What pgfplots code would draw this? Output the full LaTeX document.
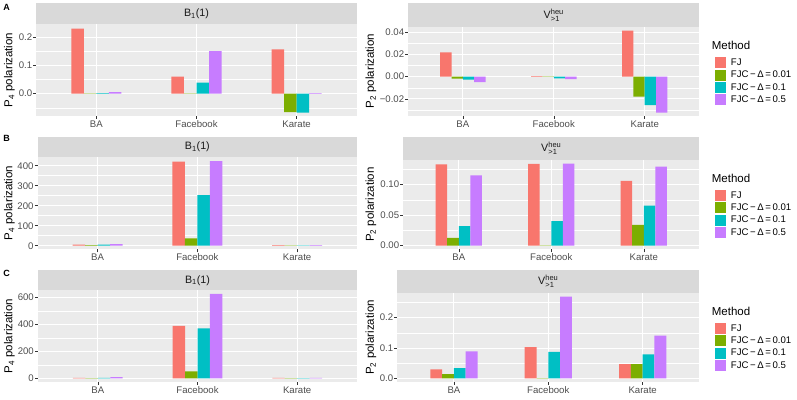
\documentclass[border=0pt]{standalone}
\usepackage{amsmath}
\usepackage{fontspec}
\setmainfont{Liberation Sans}
\usepackage{pgfplots}
\pgfplotsset{compat=1.18}

\definecolor{c1}{HTML}{F8766D}
\definecolor{c2}{HTML}{7CAE00}
\definecolor{c3}{HTML}{00BFC4}
\definecolor{c4}{HTML}{C77CFF}
\definecolor{panelbg}{HTML}{EBEBEB}
\definecolor{stripbg}{HTML}{D9D9D9}
\definecolor{ticktxt}{HTML}{4D4D4D}
\definecolor{tickln}{HTML}{333333}

\newcommand{\tickfont}{\fontsize{9.6}{10}\selectfont}
\newcommand{\titlefont}{\fontsize{11.5}{12}\selectfont}
\newcommand{\stripfont}{\fontsize{10.7}{11}\selectfont}

\pgfplotsset{
  gg/.style={
    scale only axis, anchor=south west,
    xmin=0.4, xmax=3.6,
    xtick={1,2,3}, xticklabels={BA,Facebook,Karate},
    axis background/.style={fill=panelbg},
    axis line style={draw=none},
    tick pos=left, tick align=outside,
    major tick length=3pt, minor tick length=0pt,
    every tick/.style={tickln, line width=0.5pt},
    xmajorgrids, ymajorgrids, yminorgrids,
    major grid style={white, line width=0.9pt},
    minor grid style={white, line width=0.45pt},
    ticklabel style={font=\tickfont, text=ticktxt},
    yticklabel style={inner sep=1pt},
    xticklabel style={inner sep=1.5pt},
    ybar, bar width=0.125,
    clip=false,
  },
  s1/.style={fill=c1, draw=none, bar shift=-0.1875},
  s2/.style={fill=c2, draw=none, bar shift=-0.0625},
  s3/.style={fill=c3, draw=none, bar shift=0.0625},
  s4/.style={fill=c4, draw=none, bar shift=0.1875},
  gglegend/.style={
    legend image code/.code={\fill[##1] (0pt,-5.5pt) rectangle (11pt,5.5pt);},
    legend style={draw=none, fill=none, anchor=north west,
      font=\tickfont, row sep=1.4pt, column sep=0pt,
      nodes={inner sep=0pt, anchor=west},
      cells={anchor=west}},
    legend cell align=left,
  },
}

\begin{document}
\begin{tikzpicture}[x=1pt,y=1pt]
\path[use as bounding box] (0,0) rectangle (797,399);

% ---------- Row A ----------
\begin{axis}[gg, at={(36.3pt,283pt)}, width=320.4pt, height=92pt,
  ymin=-0.079, ymax=0.246,
  ytick={0,0.1,0.2}, yticklabels={0.0,0.1,0.2},
  minor ytick={-0.05,0.05,0.15}]
\addplot[s1] coordinates {(1,0.230) (2,0.060) (3,0.156)};
\addplot[s2] coordinates {(1,0.0005) (2,0.001) (3,-0.065)};
\addplot[s3] coordinates {(1,0.002) (2,0.039) (3,-0.067)};
\addplot[s4] coordinates {(1,0.005) (2,0.150) (3,0.002)};
\end{axis}

\begin{axis}[gg, gglegend, at={(408.3pt,283pt)}, width=291pt, height=89.3pt,
  ymin=-0.0355, ymax=0.0451,
  ytick={-0.02,0,0.02,0.04}, yticklabels={−0.02,0.00,0.02,0.04},
  minor ytick={-0.03,-0.01,0.01,0.03},
  legend style={at={(1.0426,0.683)}}]
\addplot[s1] coordinates {(1,0.022) (2,0.0005) (3,0.0415)};
\addplot[s2] coordinates {(1,-0.0018) (2,0.0002) (3,-0.018)};
\addplot[s3] coordinates {(1,-0.0027) (2,-0.0015) (3,-0.0256)};
\addplot[s4] coordinates {(1,-0.005) (2,-0.0022) (3,-0.0325)};
\addlegendentry{\hspace{5pt}FJ}
\addlegendentry{\hspace{5pt}FJC\,−\,Δ\,=\,0.01}
\addlegendentry{\hspace{5pt}FJC\,−\,Δ\,=\,0.1}
\addlegendentry{\hspace{5pt}FJC\,−\,Δ\,=\,0.5}
\end{axis}

% ---------- Row B ----------
\begin{axis}[gg, at={(37.7pt,149.7pt)}, width=319.3pt, height=92.6pt,
  ymin=-18, ymax=445,
  ytick={0,100,200,300,400}, yticklabels={0,100,200,300,400},
  minor ytick={50,150,250,350}]
\addplot[s1] coordinates {(1,5) (2,420) (3,3)};
\addplot[s2] coordinates {(1,3) (2,37) (3,2)};
\addplot[s3] coordinates {(1,5) (2,253) (3,2)};
\addplot[s4] coordinates {(1,8) (2,423) (3,3)};
\end{axis}

\begin{axis}[gg, gglegend, at={(403.3pt,149.7pt)}, width=296pt, height=89.3pt,
  ymin=-0.006, ymax=0.1404,
  ytick={0,0.05,0.10}, yticklabels={0.00,0.05,0.10},
  minor ytick={0.025,0.075,0.125},
  legend style={at={(1.0419,0.6887)}}]
\addplot[s1] coordinates {(1,0.1333) (2,0.134) (3,0.106)};
\addplot[s2] coordinates {(1,0.0126) (2,0.0005) (3,0.034)};
\addplot[s3] coordinates {(1,0.032) (2,0.040) (3,0.0656)};
\addplot[s4] coordinates {(1,0.115) (2,0.1344) (3,0.1295)};
\addlegendentry{\hspace{5pt}FJ}
\addlegendentry{\hspace{5pt}FJC\,−\,Δ\,=\,0.01}
\addlegendentry{\hspace{5pt}FJC\,−\,Δ\,=\,0.1}
\addlegendentry{\hspace{5pt}FJC\,−\,Δ\,=\,0.5}
\end{axis}

% ---------- Row C ----------
\begin{axis}[gg, at={(38pt,17pt)}, width=319pt, height=91.7pt,
  ymin=-27, ymax=652,
  ytick={0,200,400,600}, yticklabels={0,200,400,600},
  minor ytick={100,300,500}]
\addplot[s1] coordinates {(1,3) (2,388) (3,3)};
\addplot[s2] coordinates {(1,2) (2,52) (3,2)};
\addplot[s3] coordinates {(1,3) (2,370) (3,2)};
\addplot[s4] coordinates {(1,10) (2,625) (3,3)};
\end{axis}

\begin{axis}[gg, gglegend, at={(397.3pt,17pt)}, width=302pt, height=89pt,
  ymin=-0.012, ymax=0.281,
  ytick={0,0.1,0.2}, yticklabels={0.0,0.1,0.2},
  minor ytick={0.05,0.15,0.25},
  legend style={at={(1.0411,0.6876)}}]
\addplot[s1] coordinates {(1,0.0297) (2,0.103) (3,0.047)};
\addplot[s2] coordinates {(1,0.0143) (2,0.001) (3,0.047)};
\addplot[s3] coordinates {(1,0.034) (2,0.087) (3,0.079)};
\addplot[s4] coordinates {(1,0.089) (2,0.269) (3,0.141)};
\addlegendentry{\hspace{5pt}FJ}
\addlegendentry{\hspace{5pt}FJC\,−\,Δ\,=\,0.01}
\addlegendentry{\hspace{5pt}FJC\,−\,Δ\,=\,0.1}
\addlegendentry{\hspace{5pt}FJC\,−\,Δ\,=\,0.5}
\end{axis}

% ---------- strips ----------
\fill[stripbg] (36.3,395.7) rectangle (356.7,375);
\node[font=\stripfont, text=black!90] at (196.5,385.35) {B$_{\text{1}}$(1)};
\fill[stripbg] (408.3,395.7) rectangle (699.3,372.3);
\node[font=\stripfont, text=black!90] at (553.8,384) {V$^{\text{heu}}_{\text{>1}}$};
\fill[stripbg] (37.7,262.3) rectangle (357,242.3);
\node[font=\stripfont, text=black!90] at (197.35,252.3) {B$_{\text{1}}$(1)};
\fill[stripbg] (403.3,262.3) rectangle (699.3,239);
\node[font=\stripfont, text=black!90] at (551.3,250.65) {V$^{\text{heu}}_{\text{>1}}$};
\fill[stripbg] (38,128.7) rectangle (357,108.7);
\node[font=\stripfont, text=black!90] at (197.5,118.7) {B$_{\text{1}}$(1)};
\fill[stripbg] (397.3,128.7) rectangle (699.3,106);
\node[font=\stripfont, text=black!90] at (548.3,117.35) {V$^{\text{heu}}_{\text{>1}}$};

% ---------- axis titles ----------
\node[font=\titlefont, rotate=90] at (9.5,329) {P$_{\text{4}}$ polarization};
\node[font=\titlefont, rotate=90] at (9.5,196) {P$_{\text{4}}$ polarization};
\node[font=\titlefont, rotate=90] at (9.5,63) {P$_{\text{4}}$ polarization};
\node[font=\titlefont, rotate=90] at (371,328) {P$_{\text{2}}$ polarization};
\node[font=\titlefont, rotate=90] at (371,194.4) {P$_{\text{2}}$ polarization};
\node[font=\titlefont, rotate=90] at (371,61.5) {P$_{\text{2}}$ polarization};

% ---------- legend titles ----------
\node[font=\titlefont, anchor=west, inner sep=0pt] at (711.7,354) {Method};
\node[font=\titlefont, anchor=west, inner sep=0pt] at (711.7,221) {Method};
\node[font=\titlefont, anchor=west, inner sep=0pt] at (711.7,88) {Method};

% ---------- panel tags ----------
\node[font=\fontsize{9}{10}\selectfont\bfseries] at (6.5,392) {A};
\node[font=\fontsize{9}{10}\selectfont\bfseries] at (6.5,260.5) {B};
\node[font=\fontsize{9}{10}\selectfont\bfseries] at (6.5,125.5) {C};
\end{tikzpicture}
\end{document}
